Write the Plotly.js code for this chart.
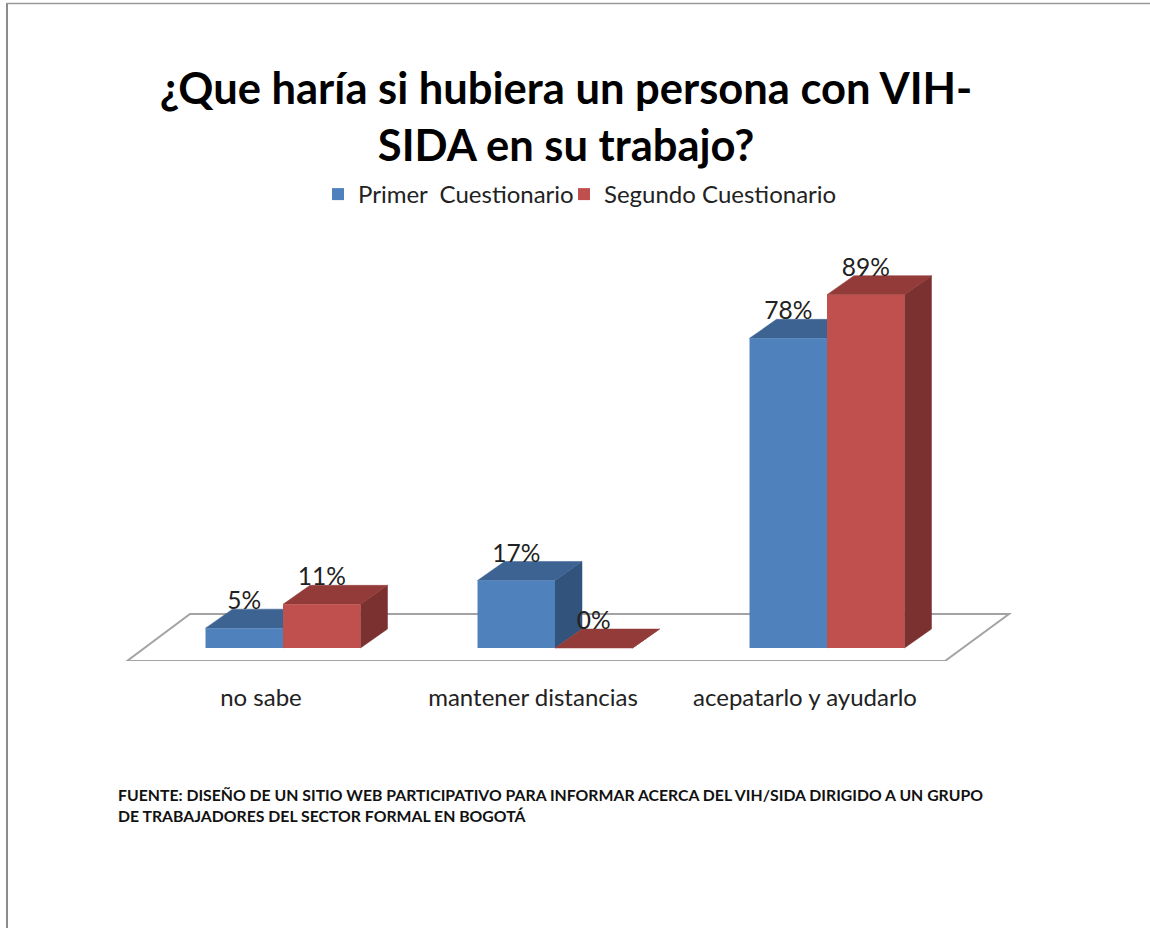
<!DOCTYPE html>
<html><head><meta charset="utf-8">
<script src="https://cdn.plot.ly/plotly-3.0.1.min.js"></script>
<style>html,body{margin:0;padding:0;background:#fff;overflow:hidden}#chart{width:1150px;height:928px}</style>
</head><body><div id="chart"></div>
<script>
const categories = ["no sabe", "mantener distancias", "acepatarlo y ayudarlo"];
const primer = [5, 17, 78];
const segundo = [11, 0, 89];
const seriesNames = ["Primer\u00A0\u00A0Cuestionario", "Segundo Cuestionario"];
const chartTitle = "¿Que haría si hubiera un persona con VIH-<br>SIDA en su trabajo?";
const sourceNote = "FUENTE: DISEÑO DE UN SITIO WEB PARTICIPATIVO PARA INFORMAR ACERCA DEL VIH/SIDA DIRIGIDO A UN GRUPO<br>DE TRABAJADORES DEL SECTOR FORMAL EN BOGOTÁ";

// plot frame in page pixels
const W = 1150, H = 928, L = 100, R = 1030, T = 250, B = 661;
// scale: 272 px per category, 3.97 px per percent; first tick at 261 px, zero at 648 px
const pxX = 272, pxY = 3.97, x0px = 261, y0px = 648;
const xRange = [(L - x0px) / pxX, (R - x0px) / pxX];
const yRange = [(y0px - B) / pxY, (y0px - T) / pxY];
const fx = px => (px - x0px) / pxX;
const fy = px => (y0px - px) / pxY;
const xIdx = categories.map((_, i) => i);

const shift = 22 / pxX, barW = 77.5 / pxX, depthX = 27 / pxX, depthY = 19 / pxY;
const colors = {
  blue: {front: "#4F81BD", top: "#3D6392", side: "#32537B"},
  red: {front: "#C0504D", top: "#933B39", side: "#7A312F"}
};

function faces(values, off, c) {
  const out = [];
  values.forEach((v, i) => {
    const a = i + shift + off, b = a + barW;
    out.push({type: "scatter", mode: "lines", fill: "toself", fillcolor: c.side,
      line: {width: 0.5, color: c.side}, showlegend: false, hoverinfo: "skip",
      x: [b, b + depthX, b + depthX, b, b], y: [0, depthY, v + depthY, v, 0]});
    out.push({type: "scatter", mode: "lines", fill: "toself", fillcolor: c.top,
      line: {width: 0.5, color: c.top}, showlegend: false, hoverinfo: "skip",
      x: [a, a + depthX, b + depthX, b, a], y: [v, v + depthY, v + depthY, v, v]});
  });
  return out;
}
function front(values, off, c, name, legendId) {
  return {type: "bar", name, x: xIdx, y: values, width: barW, offset: shift + off, legend: legendId,
    marker: {color: c.front, line: {width: 0}}, xaxis: "x2", yaxis: "y2"};
}
function labels(values, off) {
  return {type: "scatter", mode: "text", xaxis: "x2", yaxis: "y2", showlegend: false, hoverinfo: "skip",
    x: xIdx.map(i => i + shift + off + barW / 2), y: values.map(v => v + 25 / pxY),
    text: values.map(v => v + "%"), textposition: "middle center", cliponaxis: false,
    textfont: {family: "Lato, sans-serif", size: 24.5, color: "#222"}};
}

const traces = [
  ...faces(primer, -barW, colors.blue),
  ...faces(segundo, 0, colors.red),
  front(primer, -barW, colors.blue, seriesNames[0], "legend"),
  front(segundo, 0, colors.red, seriesNames[1], "legend2"),
  labels(primer, -barW),
  labels(segundo, 0)
];

const floorPath = "M" + fx(127) + "," + fy(661) + " L" + fx(190) + "," + fy(614) +
  " L" + fx(1009) + "," + fy(614) + " L" + fx(945) + "," + fy(661) + " Z";
const paperX = px => (px - L) / (R - L);
const paperY = px => (B - px) / (B - T);
const legendStyle = px => ({orientation: "h", x: paperX(px), xanchor: "left", y: paperY(172), yanchor: "top",
  font: {family: "Lato, sans-serif", size: 24, color: "#222"}, bgcolor: "rgba(0,0,0,0)"});

const layout = {
  width: W, height: H, autosize: false,
  margin: {l: L, r: W - R, t: T, b: H - B, pad: 0},
  paper_bgcolor: "#fff", plot_bgcolor: "rgba(0,0,0,0)",
  barmode: "overlay", showlegend: true,
  font: {family: "Lato, sans-serif", color: "#222"},
  title: {text: chartTitle, x: 566 / W, xanchor: "center", y: 1 - 104 / H, yanchor: "top",
    font: {family: "Lato, sans-serif", size: 43.5, color: "#000", weight: 700}},
  legend: legendStyle(318),
  legend2: legendStyle(564),
  xaxis: {range: xRange, tickmode: "array", tickvals: xIdx, ticktext: categories, showgrid: false,
    zeroline: false, showline: false, ticks: "", ticklabelstandoff: 20,
    tickfont: {family: "Lato, sans-serif", size: 24, color: "#222"}},
  yaxis: {range: yRange, visible: false, showgrid: false, zeroline: false},
  xaxis2: {range: xRange, overlaying: "x", visible: false},
  yaxis2: {range: yRange, overlaying: "y", visible: false},
  shapes: [
    {type: "path", xref: "x", yref: "y", layer: "below", path: floorPath, fillcolor: "#fff",
      line: {color: "#A3A3A3", width: 2}},
    {type: "line", xref: "paper", yref: "paper", x0: paperX(7), x1: paperX(7), y0: paperY(3), y1: paperY(928),
      line: {color: "#8C8C8C", width: 2}},
    {type: "line", xref: "paper", yref: "paper", x0: paperX(7), x1: paperX(1150), y0: paperY(3.5), y1: paperY(3.5),
      line: {color: "#9A9A9A", width: 1.5}}
  ],
  annotations: [{text: sourceNote, xref: "paper", yref: "paper", x: paperX(116), y: paperY(783), xanchor: "left",
    yanchor: "top", align: "left", showarrow: false,
    font: {family: "Lato, sans-serif", size: 15.8, color: "#111", weight: 700}}]
};
Plotly.newPlot("chart", traces, layout, {displayModeBar: false, responsive: false});
</script></body></html>
